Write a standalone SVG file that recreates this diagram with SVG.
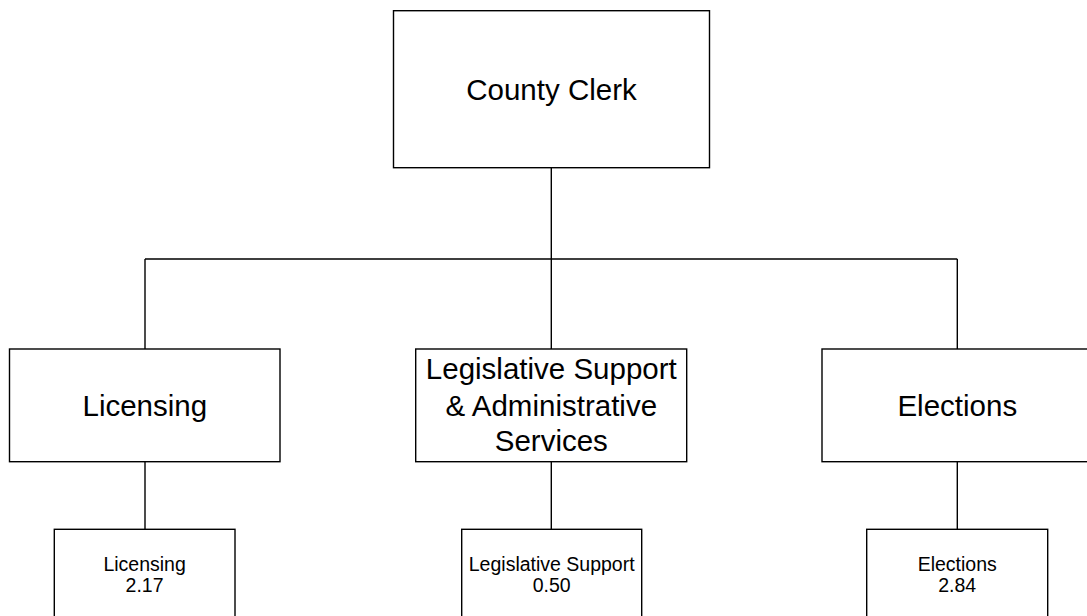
<svg xmlns="http://www.w3.org/2000/svg" width="1087" height="616" viewBox="0 0 1087 616">
<style>
.box{fill:#fff;stroke:#000;stroke-width:1.4}
.con{fill:none;stroke:#000;stroke-width:1.4}
.lg{font-family:"Liberation Sans",Arial,sans-serif;font-size:29.5px;fill:#000;text-anchor:middle}
.sm{font-family:"Liberation Sans",Arial,sans-serif;font-size:19.5px;fill:#000;text-anchor:middle}
</style>
<rect width="1087" height="616" fill="#fff"/>
<g id="connectors">
<path class="con" d="M551.3 167.7V259M145 259H957.3M145 259V349M551.3 259V349M957.3 259V349"/>
<path class="con" d="M145 461.7V529.3M551.3 461.7V529.3M957.3 461.7V529.3"/>
</g>
<g id="county-clerk">
<rect class="box" x="393.5" y="10.7" width="316" height="157"/>
<text class="lg" x="551.5" y="99.5">County Clerk</text>
</g>
<g id="licensing">
<rect class="box" x="9.5" y="349" width="270.5" height="112.7"/>
<text class="lg" x="144.8" y="415.7">Licensing</text>
</g>
<g id="legislative">
<rect class="box" x="415.7" y="349" width="271" height="112.7"/>
<text class="lg" x="551.3" y="378.5">Legislative Support</text>
<text class="lg" x="551.3" y="415.5">&amp; Administrative</text>
<text class="lg" x="551.3" y="450.7">Services</text>
</g>
<g id="elections">
<rect class="box" x="822" y="349" width="271" height="112.7"/>
<text class="lg" x="957.3" y="415.7">Elections</text>
</g>
<g id="licensing-sub">
<rect class="box" x="54.3" y="529.3" width="180.7" height="100"/>
<text class="sm" x="144.6" y="571">Licensing</text>
<text class="sm" x="144.6" y="591.8">2.17</text>
</g>
<g id="legislative-sub">
<rect class="box" x="461.7" y="529.3" width="180" height="100"/>
<text class="sm" x="551.7" y="571">Legislative Support</text>
<text class="sm" x="551.7" y="591.8">0.50</text>
</g>
<g id="elections-sub">
<rect class="box" x="866.7" y="529.3" width="181" height="100"/>
<text class="sm" x="957.2" y="571">Elections</text>
<text class="sm" x="957.2" y="591.8">2.84</text>
</g>
</svg>
